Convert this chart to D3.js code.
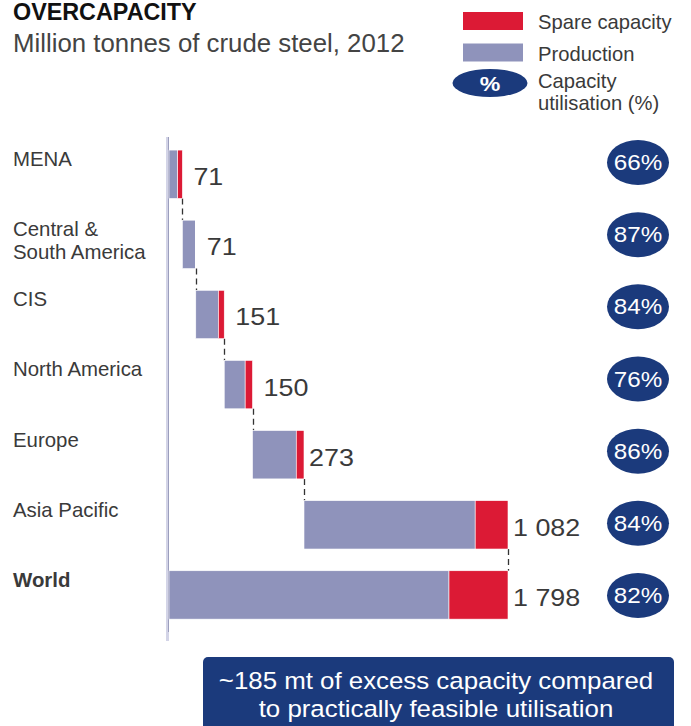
<!DOCTYPE html>
<html>
<head>
<meta charset="utf-8">
<script src="https://cdn.jsdelivr.net/npm/d3@7/dist/d3.min.js"></script>
<style>
  html, body { margin: 0; padding: 0; background: #fff; }
  svg { display: block; font-family: "Liberation Sans", Arial, Helvetica, sans-serif; }
</style>
</head>
<body>
<svg id="chart" width="691" height="726"></svg>
<script>
// Crude steel capacity by region, 2012 (million tonnes)
const regions = ["MENA", "Central & South America", "CIS", "North America", "Europe", "Asia Pacific", "World"];
const regionLabels = [["MENA"], ["Central &", "South America"], ["CIS"], ["North America"], ["Europe"], ["Asia Pacific"], ["World"]];
const capacity = [71, 71, 151, 150, 273, 1082, 1798];
const production = [46, 70, 120, 111, 232, 908, 1485];
const utilisation = [66, 87, 84, 76, 86, 84, 82];
const legendItems = ["Spare capacity", "Production"];
const noteLines = ["~185 mt of excess capacity compared", "to practically feasible utilisation"];

const COL_PROD = "#8f93bb";
const COL_SPARE = "#dc1a35";
const COL_NAVY = "#1b3a7c";
const COL_TEXT = "#3a3a3a";
const WIDE = 1.1; // horizontal stretch for the wider display face

const svg = d3.select("#chart");
const fmt = d3.formatLocale({ decimal: ".", thousands: " ", grouping: [3], currency: ["", ""] }).format(",d");

// Waterfall offsets: each region starts where the previous one ended; the world total starts at zero
const last = regions.length - 1;
const starts = capacity.map((c, i) => i === last ? 0 : d3.sum(capacity.slice(0, i)));
const rows = regions.map((r, i) => ({
  region: r, lines: regionLabels[i], start: starts[i], cap: capacity[i],
  prod: production[i], util: utilisation[i], world: i === last
}));

const x = d3.scaleLinear().domain([0, capacity[last]]).range([169, 508]);
const y = d3.scaleBand().domain(regions).range([139.2, 630]).paddingInner(0.31).paddingOuter(0.155);
const yBadge = d3.scalePoint().domain(regions).range([162.5, 595.5]);

// Title block
svg.append("text").attr("transform", "translate(13,19.5) scale(1.015,1)")
  .attr("font-size", 23).attr("font-weight", "bold").attr("fill", "#111")
  .text("OVERCAPACITY");
svg.append("text").attr("x", 13).attr("y", 51.5)
  .attr("font-size", 25.8).attr("fill", "#444")
  .text("Million tonnes of crude steel, 2012");

// Legend
const legend = svg.append("g");
legend.selectAll("rect").data(legendItems).join("rect")
  .attr("x", 463).attr("y", (d, i) => 12 + i * 31.5)
  .attr("width", 60).attr("height", 18)
  .attr("fill", (d, i) => i === 0 ? COL_SPARE : COL_PROD);
legend.selectAll("text.item").data(legendItems).join("text").attr("class", "item")
  .attr("x", 538).attr("y", (d, i) => 28.5 + i * 32)
  .attr("font-size", 20.2).attr("fill", COL_TEXT).text(d => d);
legend.append("ellipse").attr("cx", 490).attr("cy", 83).attr("rx", 37.5).attr("ry", 14).attr("fill", COL_NAVY);
legend.append("text").attr("transform", "translate(490,90.5) scale(1.1,1)").attr("text-anchor", "middle")
  .attr("font-size", 21).attr("font-weight", "bold").attr("fill", "#fff").text("%");
legend.append("text").attr("x", 538).attr("y", 87.5).attr("font-size", 20.2).attr("fill", COL_TEXT).text("Capacity");
legend.append("text").attr("x", 538).attr("y", 109.5).attr("font-size", 20.2).attr("fill", COL_TEXT).text("utilisation (%)");

// Baseline axis
svg.append("line").attr("x1", 167.5).attr("x2", 167.5).attr("y1", 137).attr("y2", 641)
  .attr("stroke", "#d3d4e7").attr("stroke-width", 3);
svg.append("line").attr("x1", 168.5).attr("x2", 168.5).attr("y1", 137).attr("y2", 632)
  .attr("stroke", "#9c9ebd").attr("stroke-width", 1);

// Region labels
const labels = svg.append("g").selectAll("text").data(rows).join("text")
  .attr("x", 13).attr("y", d => y(d.region) + 16)
  .attr("font-size", 20.4).attr("fill", COL_TEXT)
  .attr("font-weight", d => d.world ? "bold" : null);
labels.selectAll("tspan").data(d => d.lines).join("tspan")
  .attr("x", 13).attr("dy", (d, i) => i === 0 ? 0 : 23).text(d => d);

// Dashed connectors between consecutive bars
const conn = svg.append("g");
rows.slice(0, last).forEach((d, i) => {
  const xe = Math.round(x(d.start + d.cap)) + 0.5;
  conn.append("line")
    .attr("x1", xe).attr("x2", xe)
    .attr("y1", y(d.region) + y.bandwidth()).attr("y2", y(regions[i + 1]))
    .attr("stroke", "#333").attr("stroke-width", 1.3)
    .attr("stroke-dasharray", "6,4");
});

// Bars: production then spare capacity
const bars = svg.append("g");
bars.selectAll("rect.prod").data(rows).join("rect").attr("class", "prod")
  .attr("x", d => x(d.start)).attr("y", d => y(d.region))
  .attr("width", d => x(d.start + d.prod) - x(d.start)).attr("height", y.bandwidth())
  .attr("fill", COL_PROD).attr("stroke", "#fff").attr("stroke-width", 0.6);
bars.selectAll("rect.spare").data(rows.filter(d => d.cap > d.prod)).join("rect").attr("class", "spare")
  .attr("x", d => x(d.start + d.prod)).attr("y", d => y(d.region))
  .attr("width", d => x(d.start + d.cap) - x(d.start + d.prod)).attr("height", y.bandwidth())
  .attr("fill", COL_SPARE).attr("stroke", "#fff").attr("stroke-width", 0.6);

// Capacity value labels (tighter gap beside the wide bars)
svg.append("g").selectAll("text").data(rows).join("text")
  .attr("transform", d => {
    const gap = d.cap > 200 ? 5 : 11;
    return `translate(${x(d.start + d.cap) + gap},${y(d.region) + y.bandwidth() / 2 + 11}) scale(${WIDE + 0.02},1)`;
  })
  .attr("font-size", 24).attr("fill", COL_TEXT)
  .text(d => fmt(d.cap));

// Utilisation badges
const badges = svg.append("g").selectAll("g").data(rows).join("g")
  .attr("transform", d => `translate(638,${yBadge(d.region)})`);
badges.append("ellipse").attr("rx", 31).attr("ry", 22.5).attr("fill", COL_NAVY);
badges.append("text").attr("text-anchor", "middle").attr("transform", `translate(0,7.5) scale(${WIDE},1)`)
  .attr("font-size", 22).attr("fill", "#fff").text(d => d.util + "%");

// Note box at the bottom
svg.append("rect").attr("x", 203).attr("y", 657).attr("width", 471).attr("height", 80)
  .attr("rx", 5).attr("fill", COL_NAVY);
svg.append("g").selectAll("text").data(noteLines).join("text")
  .attr("transform", (d, i) => `translate(436,${688.5 + i * 28}) scale(${WIDE},1)`)
  .attr("text-anchor", "middle").attr("font-size", 23.5).attr("fill", "#fff")
  .text(d => d);
</script>
</body>
</html>
